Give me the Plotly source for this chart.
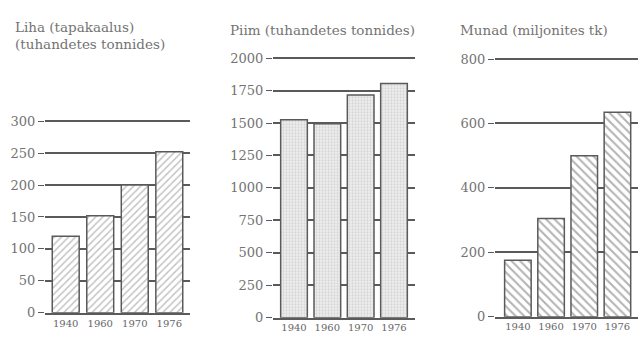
import plotly.graph_objects as go

# data
years = ["1940", "1960", "1970", "1976"]
meat = [120, 152, 200, 252]          # Liha (tapakaalus), tuhandetes tonnides
milk = [1525, 1495, 1715, 1805]      # Piim, tuhandetes tonnides
eggs = [175, 305, 500, 635]          # Munad, miljonites tk

meat_ticks = [0, 50, 100, 150, 200, 250, 300]
milk_ticks = [0, 250, 500, 750, 1000, 1250, 1500, 1750, 2000]
egg_ticks = [0, 200, 400, 600, 800]

W, H = 643, 341
FONT = "DejaVu Serif"
TXT = "#737373"
LINE = "#5a5a5a"


def px_x(p):
    return p / W


def px_y(p):
    return 1 - p / H


fig = go.Figure()

# Liha
fig.add_trace(go.Bar(
    x=years, y=meat, width=0.78, xaxis="x", yaxis="y",
    marker=dict(color="white", line=dict(color=LINE, width=1.5),
                pattern=dict(shape="/", fgcolor="#8a8a8a", bgcolor="white",
                             size=5, solidity=0.3, fillmode="overlay")),
))
# Piim
fig.add_trace(go.Bar(
    x=years, y=milk, width=0.8, xaxis="x2", yaxis="y2",
    marker=dict(color="#e4e4e4", line=dict(color=LINE, width=1.5),
                pattern=dict(shape=".", fgcolor="#b5b5b5", bgcolor="#ececec",
                             size=3, solidity=0.3, fillmode="overlay")),
))
# Munad
fig.add_trace(go.Bar(
    x=years, y=eggs, width=0.8, xaxis="x3", yaxis="y3",
    marker=dict(color="white", line=dict(color=LINE, width=1.5),
                pattern=dict(shape="\\", fgcolor="#6a6a6a", bgcolor="white",
                             size=6, solidity=0.35, fillmode="overlay")),
))

xcommon = dict(type="category", showgrid=False, showline=True, linecolor=LINE,
               linewidth=1.5, ticks="", tickfont=dict(family=FONT, size=10, color="#666"),
               fixedrange=True)
ycommon = dict(showgrid=True, gridcolor=LINE, gridwidth=1.5, zeroline=False,
               showline=False, ticks="outside", ticklen=6, tickcolor=LINE,
               tickfont=dict(family=FONT, size=13, color=TXT), fixedrange=True)

fig.update_layout(
    width=W, height=H,
    margin=dict(l=0, r=0, t=0, b=0),
    paper_bgcolor="white", plot_bgcolor="white",
    showlegend=False, barmode="overlay",
    xaxis=dict(xcommon, domain=[px_x(45), px_x(190)], range=[-0.6, 3.6], anchor="y"),
    yaxis=dict(ycommon, domain=[px_y(320), px_y(118)], range=[0, 303],
               tickvals=meat_ticks, anchor="x"),
    xaxis2=dict(xcommon, domain=[px_x(273), px_x(415)], range=[-0.63, 3.63], anchor="y2"),
    yaxis2=dict(ycommon, domain=[px_y(325), px_y(53)], range=[0, 2010],
                tickvals=milk_ticks, anchor="x2"),
    xaxis3=dict(xcommon, domain=[px_x(495), px_x(638)], range=[-0.69, 3.62], anchor="y3"),
    yaxis3=dict(ycommon, domain=[px_y(324), px_y(54)], range=[0, 804],
                tickvals=egg_ticks, anchor="x3"),
)

titles = [
    ("Liha (tapakaalus)", 13, 22),
    ("(tuhandetes tonnides)", 13, 40),
    ("Piim (tuhandetes tonnides)", 228, 25),
    ("Munad (miljonites tk)", 458, 25),
]
for text, x, y in titles:
    fig.add_annotation(text=text, x=px_x(x), y=px_y(y), xref="paper", yref="paper",
                       xanchor="left", yanchor="middle", showarrow=False,
                       font=dict(family=FONT, size=13.5, color=TXT))

# drop the default body margin so the figure sits at the window's corner
fig.write_html("out.html", config={"displayModeBar": False},
               post_script="document.body.style.margin='0';")
